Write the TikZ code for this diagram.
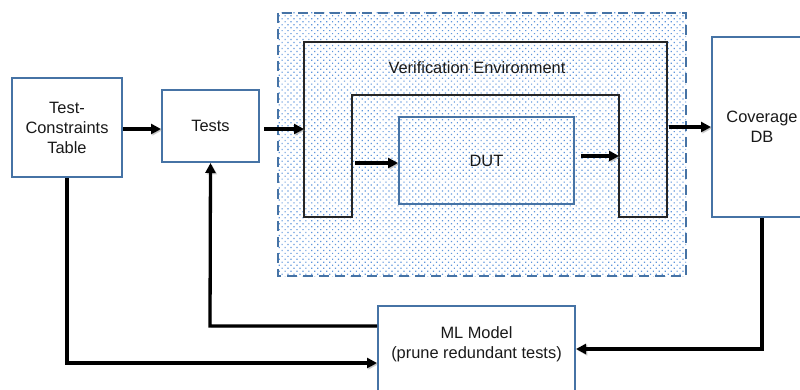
\documentclass[tikz,border=0pt]{standalone}
\usepackage{fontspec}
\setmainfont{Liberation Sans}
\usetikzlibrary{arrows.meta,patterns.meta}
\definecolor{boxblue}{RGB}{70,115,165}
\definecolor{dotblue}{RGB}{95,150,220}
\definecolor{txt}{RGB}{25,25,25}
\tikzset{
  txtfont/.style={font=\fontsize{16.4}{20}\selectfont},
  box/.style={draw=boxblue, line width=2pt, fill=white, text=txt, align=center,
    inner sep=0pt, txtfont},
  shadowed/.style={preaction={draw=black!45, opacity=0.45,
    transform canvas={shift={(1.3pt,-1.3pt)}}}},
  flow/.style={line width=3.3pt, -{Triangle[length=10pt,width=10pt]}, shadowed},
  envline/.style={draw=black!85, line width=1.1pt},
  lbl/.style={text=txt, txtfont, align=center},
}
\begin{document}
\begin{tikzpicture}[x=1pt,y=-1pt]
\useasboundingbox (0,0) rectangle (800,390);
\clip (0,0) rectangle (800,390);
\fill[white] (0,0) rectangle (800,390);

% testbench area with dotted fill and dashed border
\path[fill=white] (278,13) rectangle (686,276);
\path[pattern={Dots[distance=4.2pt,radius=0.85pt,angle=45]}, pattern color=dotblue] (278,13) rectangle (686,276);
\draw[boxblue, line width=2.2pt, dash pattern=on 10pt off 6pt] (278,13) rectangle (686,276);

% verification environment (U-shaped wrapper)
\draw[envline] (304,217) -- (304,42) -- (667,42) -- (667,217) -- (619,217)
  -- (619,95) -- (352,95) -- (352,217) -- cycle;
\node[lbl] (venv) at (477,68) {Verification Environment};

% DUT
\node[draw=boxblue, line width=2pt, text=txt, txtfont,
  minimum width=175pt, minimum height=87pt, inner sep=0pt] (dut) at (486.5,160.5) {DUT};

% main blocks
\node[box, minimum width=110pt, minimum height=99pt] (tc) at (67,127.5) {Test-\\Constraints\\Table};
\node[box, minimum width=97pt, minimum height=72pt] (tests) at (210.5,126) {Tests};
\node[box, minimum width=100pt, minimum height=180pt] (cov) at (762,127) {Coverage\\DB};
\node[box, minimum width=197pt, minimum height=110pt, anchor=north] (ml) at (476.5,305) {};
\node[lbl] (mltext) at (476.5,344) {ML Model\\(prune redundant tests)};

% connection points on the environment wrapper
\coordinate (vin) at (304,129);
\coordinate (vinner) at (352,163);
\coordinate (vout) at (619,156);
\coordinate (vright) at (667,127);

% forward flow
\draw[flow] (tc.east |- 0,129) -- (tests.west |- 0,129);
\draw[flow] (264,129) -- (vin);
\draw[flow] ([xshift=3pt]vinner) -- (dut.west |- vinner);
\draw[flow] (dut.east |- vout) ++(6,0) -- (vout);
\draw[flow] ([xshift=2pt]vright) -- (cov.west |- vright);

% feedback paths through the ML model
\draw[flow] (tc.south) -- (67,363) -- (ml.west |- 0,363);
\draw[flow] (ml.west |- 0,326) -- (210,326) -- (tests.south);
\draw[flow] (cov.south) -- (762,349) -- (ml.east |- 0,349);
\end{tikzpicture}
\end{document}
